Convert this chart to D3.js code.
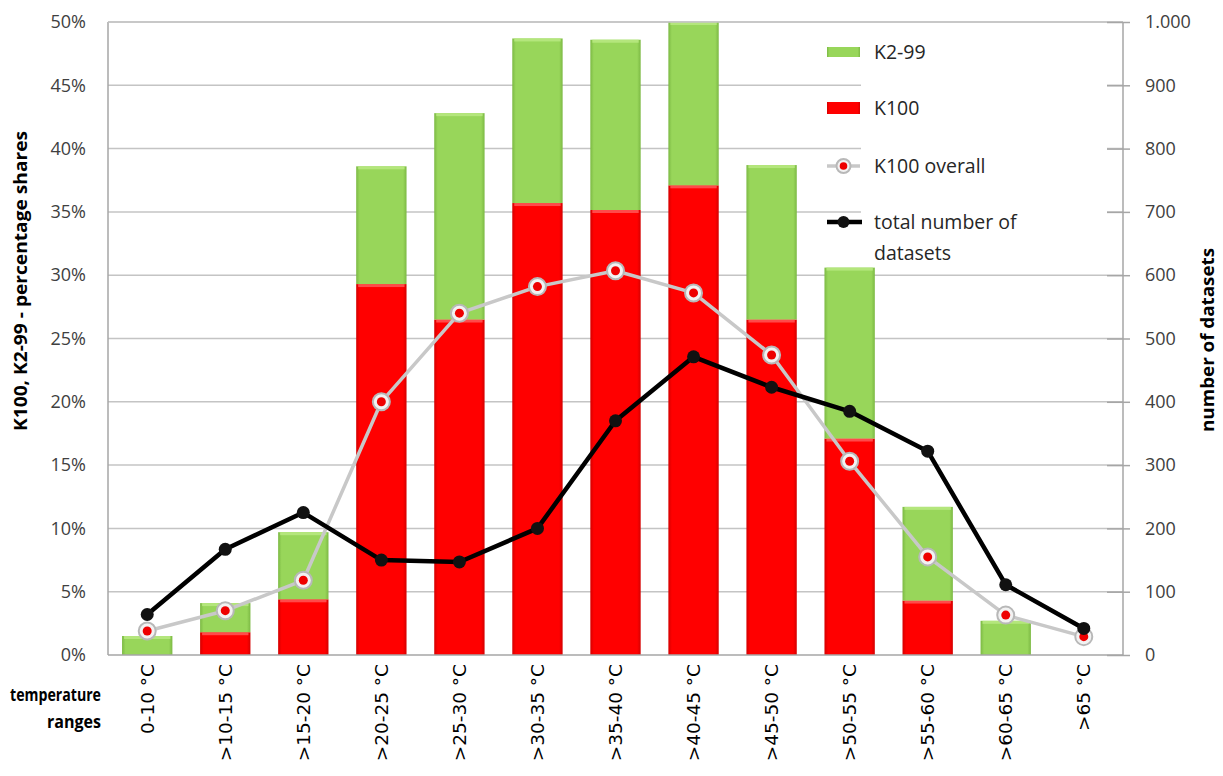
<!DOCTYPE html>
<html>
<head>
<meta charset="utf-8">
<script src="https://cdn.jsdelivr.net/npm/d3@7"></script>
<style>
  html, body { margin: 0; padding: 0; background: #fff; }
  svg { display: block; }
  text { font-family: "Open Sans", "Noto Sans", sans-serif; }
</style>
</head>
<body>
<svg id="chart" width="1223" height="776"></svg>
<script>
// ---- data ----
const categories = ["0-10 °C", ">10-15 °C", ">15-20 °C", ">20-25 °C", ">25-30 °C", ">30-35 °C",
  ">35-40 °C", ">40-45 °C", ">45-50 °C", ">50-55 °C", ">55-60 °C", ">60-65 °C", ">65 °C"];
const k100 = [0, 1.8, 4.4, 29.3, 26.5, 35.7, 35.15, 37.1, 26.5, 17.1, 4.3, 0, 0];
const k2_99 = [1.5, 2.3, 5.3, 9.3, 16.3, 13.0, 13.45, 12.9, 12.2, 13.5, 7.4, 2.7, 0];
const k100Overall = [1.9, 3.5, 5.9, 20.0, 27.0, 29.1, 30.35, 28.6, 23.7, 15.3, 7.75, 3.15, 1.45];
const totalDatasets = [64, 167, 225, 150, 147, 200, 370, 471, 423, 385, 322, 111, 42];
const leftTicks = [0, 5, 10, 15, 20, 25, 30, 35, 40, 45, 50];
const rightTicks = [0, 100, 200, 300, 400, 500, 600, 700, 800, 900, 1000];
const legendItems = ["K2-99", "K100", "K100 overall", "total number of|datasets"];

// ---- layout ----
const svg = d3.select("#chart");
const W = 1223, H = 776;
const m = { left: 108, right: 100, top: 22, bottom: 121 };
const pw = W - m.left - m.right, ph = H - m.top - m.bottom;

const x = d3.scaleBand().domain(categories).range([m.left, m.left + pw]).paddingInner(0.355).paddingOuter(0.18);
const xc = d => x(d) + x.bandwidth() / 2;
const yL = d3.scaleLinear().domain([0, 50]).range([m.top + ph, m.top]);
const yR = d3.scaleLinear().domain([0, 1000]).range([m.top + ph, m.top]);

// gradients
const defs = svg.append("defs");
function grad(id, edge, mid) {
  const g = defs.append("linearGradient").attr("id", id).attr("x1", 0).attr("x2", 1).attr("y1", 0).attr("y2", 0);
  g.append("stop").attr("offset", "0%").attr("stop-color", edge);
  g.append("stop").attr("offset", "7%").attr("stop-color", mid);
  g.append("stop").attr("offset", "93%").attr("stop-color", mid);
  g.append("stop").attr("offset", "100%").attr("stop-color", edge);
}
grad("gGreen", "#7cb944", "#98d65a");
grad("gRed", "#d40000", "#ff0000");

// gridlines
svg.append("g").selectAll("line").data(leftTicks.filter(d => d > 0)).join("line")
  .attr("x1", m.left).attr("x2", m.left + pw)
  .attr("y1", d => yL(d)).attr("y2", d => yL(d))
  .attr("stroke", "#c4c4c4").attr("stroke-width", 1.5);

// bars
const stackData = categories.map((c, i) => ({ c, k100: k100[i], k2_99: k2_99[i] }));
const series = d3.stack().keys(["k100", "k2_99"])(stackData);
const fills = { k100: "url(#gRed)", k2_99: "url(#gGreen)" };
const tops = { k100: "#ff4a4a", k2_99: "#b4e67c" };
series.forEach(s => {
  const g = svg.append("g");
  s.forEach(d => {
    if (d[1] - d[0] <= 0) return;
    const y0 = yL(d[0]), y1 = yL(Math.min(d[1], 50));
    g.append("rect").attr("x", x(d.data.c)).attr("width", x.bandwidth())
      .attr("y", y1).attr("height", y0 - y1).attr("fill", fills[s.key]);
    g.append("rect").attr("x", x(d.data.c) + 2).attr("width", x.bandwidth() - 4)
      .attr("y", y1).attr("height", Math.min(3, y0 - y1)).attr("fill", tops[s.key]);
  });
});

// legend background
svg.append("rect").attr("x", 861).attr("y", 30).attr("width", 246).attr("height", 236).attr("fill", "#fff");

// axes lines
svg.append("line").attr("x1", m.left).attr("x2", m.left).attr("y1", m.top).attr("y2", m.top + ph).attr("stroke", "#a6a6a6").attr("stroke-width", 1.5);
svg.append("line").attr("x1", m.left + pw).attr("x2", m.left + pw).attr("y1", m.top).attr("y2", m.top + ph).attr("stroke", "#a6a6a6").attr("stroke-width", 1.5);
svg.append("line").attr("x1", m.left).attr("x2", m.left + pw).attr("y1", m.top + ph).attr("y2", m.top + ph).attr("stroke", "#a6a6a6").attr("stroke-width", 1.5);
svg.append("line").attr("x1", m.left).attr("x2", m.left + pw).attr("y1", m.top).attr("y2", m.top).attr("stroke", "#c4c4c4").attr("stroke-width", 1.5);

// left axis
const axL = svg.append("g").attr("transform", `translate(${m.left},0)`)
  .call(d3.axisLeft(yL).tickValues(leftTicks).tickFormat(d => d + "%").tickSize(0).tickPadding(22));
axL.select(".domain").remove();
axL.selectAll("text").attr("font-size", 18).attr("fill", "#404040").style("font-family", "'Open Sans', sans-serif");

// right axis
const axR = svg.append("g").attr("transform", `translate(${m.left + pw},0)`)
  .call(d3.axisRight(yR).tickValues(rightTicks).tickFormat(d => d === 1000 ? "1.000" : d).tickSize(7).tickPadding(15));
axR.select(".domain").remove();
axR.selectAll("line").attr("stroke", "#a6a6a6").attr("stroke-width", 1.5).attr("x1", -16);
axR.selectAll("text").attr("font-size", 18).attr("fill", "#404040").style("font-family", "'Open Sans', sans-serif");

// bottom axis
const axB = svg.append("g").attr("transform", `translate(0,${m.top + ph})`)
  .call(d3.axisBottom(x).tickSize(0));
axB.select(".domain").remove();
axB.selectAll("text")
  .attr("transform", "rotate(-90)")
  .attr("text-anchor", "end")
  .attr("x", -9).attr("y", 0).attr("dy", "0.36em")
  .attr("font-size", 18.5).attr("fill", "#000")
  .style("font-family", "'DejaVu Sans', sans-serif");

// lines
const lineL = d3.line().x((d, i) => xc(categories[i])).y(d => yL(d));
const lineR = d3.line().x((d, i) => xc(categories[i])).y(d => yR(d));

svg.append("path").datum(k100Overall).attr("d", lineL).attr("fill", "none").attr("stroke", "#c8c8c8").attr("stroke-width", 3.5).attr("stroke-linejoin", "round");
svg.append("path").datum(totalDatasets).attr("d", lineR).attr("fill", "none").attr("stroke", "#000").attr("stroke-width", 4.5).attr("stroke-linejoin", "round");

// markers - overall
const mo = svg.append("g");
k100Overall.forEach((v, i) => {
  const cx = xc(categories[i]), cy = yL(v);
  mo.append("circle").attr("cx", cx).attr("cy", cy).attr("r", 8.5).attr("fill", "#f2f2f2").attr("stroke", "#b8b8b8").attr("stroke-width", 2);
  mo.append("circle").attr("cx", cx).attr("cy", cy).attr("r", 4.5).attr("fill", "#ee0000");
});
// markers - total
svg.append("g").selectAll("circle").data(totalDatasets).join("circle")
  .attr("cx", (d, i) => xc(categories[i])).attr("cy", d => yR(d)).attr("r", 6.5).attr("fill", "#111");

// legend
const lx = 827, lw = 33;
const legY = [52, 108, 166, 222];
const lg = svg.append("g");
lg.append("rect").attr("x", lx).attr("y", legY[0] - 5).attr("width", lw).attr("height", 10).attr("fill", "url(#gGreen)");
lg.append("rect").attr("x", lx).attr("y", legY[1] - 6).attr("width", lw).attr("height", 12).attr("fill", "url(#gRed)");
lg.append("line").attr("x1", lx).attr("x2", lx + lw).attr("y1", legY[2]).attr("y2", legY[2]).attr("stroke", "#c8c8c8").attr("stroke-width", 3.5);
lg.append("circle").attr("cx", lx + lw / 2).attr("cy", legY[2]).attr("r", 7).attr("fill", "#f2f2f2").attr("stroke", "#b8b8b8").attr("stroke-width", 2);
lg.append("circle").attr("cx", lx + lw / 2).attr("cy", legY[2]).attr("r", 3.8).attr("fill", "#ee0000");
lg.append("line").attr("x1", lx).attr("x2", lx + lw + 2).attr("y1", legY[3]).attr("y2", legY[3]).attr("stroke", "#000").attr("stroke-width", 4.5);
lg.append("circle").attr("cx", lx + lw / 2).attr("cy", legY[3]).attr("r", 6).attr("fill", "#111");
legendItems.forEach((t, i) => {
  const parts = t.split("|");
  parts.forEach((p, j) => {
    lg.append("text").attr("x", 874).attr("y", legY[i] + j * 31).attr("dy", "0.36em")
      .attr("font-size", 19.5).attr("fill", "#262626").text(p);
  });
});

// axis titles
svg.append("text").attr("transform", "translate(27,281) rotate(-90)").attr("text-anchor", "middle")
  .attr("font-size", 17).attr("font-weight", "bold").attr("fill", "#000")
  .attr("textLength", 300).attr("lengthAdjust", "spacingAndGlyphs")
  .text("K100, K2-99  - percentage shares");
svg.append("text").attr("transform", "translate(1214,340) rotate(-90)").attr("text-anchor", "middle")
  .attr("font-size", 17).attr("font-weight", "bold").attr("fill", "#000")
  .attr("textLength", 184).attr("lengthAdjust", "spacingAndGlyphs")
  .text("number of datasets");
svg.append("text").attr("x", 101).attr("y", 701).attr("text-anchor", "end")
  .attr("font-size", 18).attr("font-weight", "bold").attr("fill", "#000")
  .attr("textLength", 91).attr("lengthAdjust", "spacingAndGlyphs").text("temperature");
svg.append("text").attr("x", 101).attr("y", 728).attr("text-anchor", "end")
  .attr("font-size", 18).attr("font-weight", "bold").attr("fill", "#000")
  .attr("textLength", 54).attr("lengthAdjust", "spacingAndGlyphs").text("ranges");
</script>
</body>
</html>
